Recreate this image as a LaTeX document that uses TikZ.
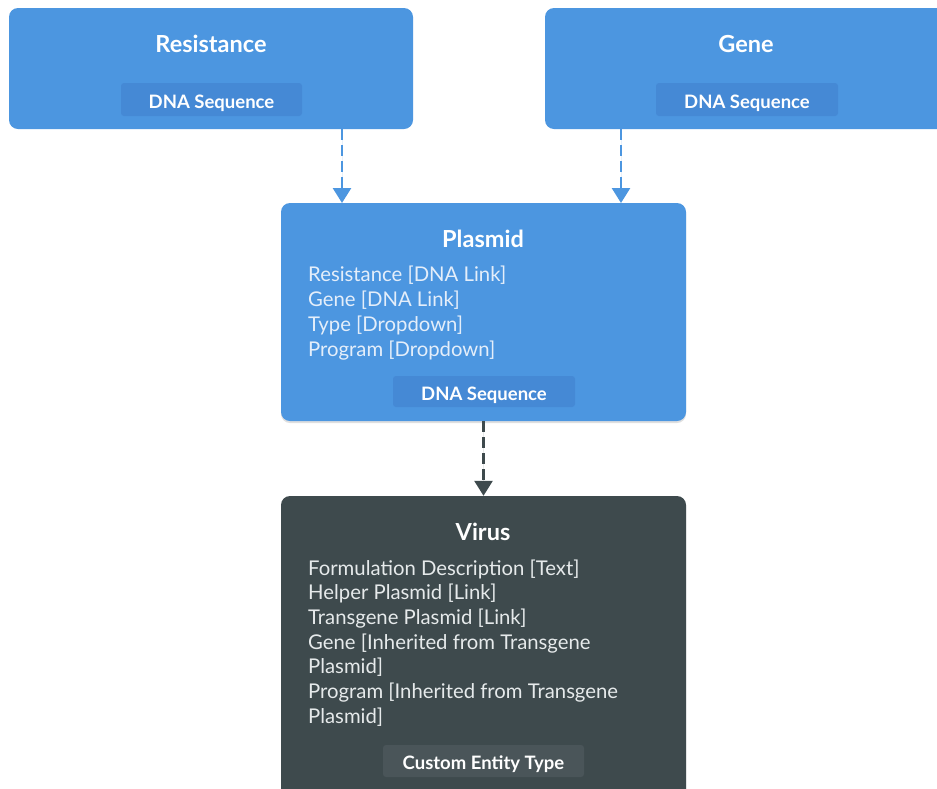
\documentclass[tikz,border=0pt]{standalone}
\usepackage{fontspec}
\setmainfont{Lato}
\usepackage{xcolor}
\usepackage{tikz}
\usetikzlibrary{arrows.meta,positioning,shadows}
\definecolor{boxblue}{HTML}{4C96E0}
\definecolor{chipblue}{HTML}{4589D5}
\definecolor{boxdark}{HTML}{3E4A4D}
\definecolor{chipdark}{HTML}{4A5559}
\definecolor{fieldblue}{HTML}{E4EEFA}
\definecolor{fielddark}{HTML}{E6EAEB}
\tikzset{
    entity/.style={draw=none, rectangle, rounded corners=9pt, inner sep=0pt},
    blueentity/.style={entity, fill=boxblue},
    darkentity/.style={entity, fill=boxdark},
    title/.style={text=white, inner sep=0pt, font=\fontsize{23.5}{26}\selectfont\bfseries},
    field/.style={anchor=base west, inner sep=0pt, font=\fontsize{20.3}{24}\selectfont},
    chip/.style={rectangle, rounded corners=3pt, inner sep=0pt, minimum height=32pt, text height=17pt, text depth=0pt, text=white, font=\fontsize{18.5}{22}\selectfont\bfseries},
    link/.style={-{Triangle[width=18pt,length=15pt]}, line width=2.6pt, dash pattern=on 11pt off 5pt}
}
\begin{document}
\begin{tikzpicture}[x=1pt, y=-1pt]
    \clip (0,0) rectangle (937,788);
    \fill[white] (0,0) rectangle (937,788);

    % top entities
    \node[blueentity, minimum width=404pt, minimum height=121pt] (resistance) at (211,68.5) {};
    \node[title] (resistance-title) at (211,43.5) {Resistance};
    \node[chip, fill=chipblue, minimum width=181pt, minimum height=33pt] (resistance-chip) at (211.5,99.5) {DNA Sequence};

    \node[blueentity, minimum width=404pt, minimum height=121pt] (gene) at (747,68.5) {};
    \node[title] (gene-title) at (746,43.5) {Gene};
    \node[chip, fill=chipblue, minimum width=182pt, minimum height=33pt] (gene-chip) at (747,99.5) {DNA Sequence};

    % plasmid
    \node[blueentity, minimum width=405pt, minimum height=218pt,
          drop shadow={shadow xshift=0pt, shadow yshift=-2pt, opacity=0.25}] (plasmid) at (483.5,312) {};
    \node[title] (plasmid-title) at (483,238.5) {Plasmid};
    \foreach \txt [count=\i] in {{Resistance [DNA Link]}, {Gene [DNA Link]}, {Type [Dropdown]}, {Program [Dropdown]}} {
        \node[field, text=fieldblue] (plasmid-f\i) at (308,256+25*\i) {\txt};
    }
    \node[chip, fill=chipblue, minimum width=182pt, minimum height=31pt] (plasmid-chip) at (484,391.5) {DNA Sequence};

    % virus
    \node[darkentity, minimum width=405pt, minimum height=320pt,
          drop shadow={shadow xshift=0pt, shadow yshift=-2pt, opacity=0.25}] (virus) at (483.5,656) {};
    \node[title] (virus-title) at (483,531.5) {Virus};
    \foreach \txt [count=\i] in {{Formulation Description [Text]}, {Helper Plasmid [Link]}, {Transgene Plasmid [Link]}, {Gene [Inherited from Transgene}, {Plasmid]}, {Program [Inherited from Transgene}, {Plasmid]}} {
        \node[field, text=fielddark] (virus-f\i) at (308,550.3+24.7*\i) {\txt};
    }
    \node[chip, fill=chipdark, minimum width=201pt] (virus-chip) at (483.5,761) {Custom Entity Type};

    % links
    \coordinate (plasmid-in1) at (342,203);
    \coordinate (plasmid-in2) at (621,203);
    \draw[link, draw=boxblue, fill=boxblue] (plasmid-in1 |- resistance.south) -- (plasmid-in1);
    \draw[link, draw=boxblue, fill=boxblue] (plasmid-in2 |- gene.south) -- (plasmid-in2);
    \draw[link, draw=boxdark, fill=boxdark] (plasmid.south) -- (virus.north);
\end{tikzpicture}
\end{document}
